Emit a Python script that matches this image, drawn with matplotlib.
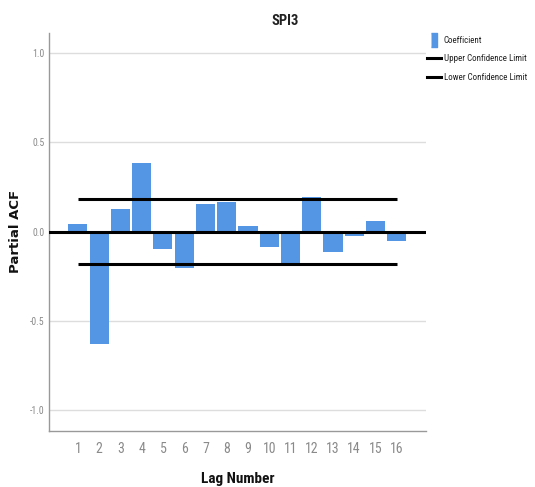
import matplotlib
matplotlib.use('Agg')
import matplotlib.pyplot as plt
from matplotlib.lines import Line2D
import numpy as np

# partial autocorrelation of SPI3, lags 1-16
lags = np.arange(1, 17)
pacf = [0.042, -0.628, 0.124, 0.381, -0.100, -0.204, 0.152, 0.163,
        0.032, -0.085, -0.174, 0.194, -0.113, -0.023, 0.060, -0.055]
conf_limit = 0.18
yticks = [-1.0, -0.5, 0.0, 0.5, 1.0]

narrow = ['Roboto Condensed', 'DejaVu Sans']
bar_col = '#5596e4'
tick_col = '#8a8a8a'

fig = plt.figure(figsize=(5.35, 4.87), dpi=100)
ax = fig.add_axes([0.0916, 0.115, 0.704, 0.817])

ax.bar(lags, pacf, width=0.9, color=bar_col, zorder=2)
ax.axhline(0, color='black', lw=2.2, zorder=3)
ax.plot([lags[0], lags[-1]], [conf_limit, conf_limit], color='black', lw=2.2,
        solid_capstyle='butt', zorder=3)
ax.plot([lags[0], lags[-1]], [-conf_limit, -conf_limit], color='black', lw=2.2,
        solid_capstyle='butt', zorder=3)

ax.set_xlim(-0.36, 17.36)
ax.set_ylim(-1.115, 1.109)
ax.set_xticks(lags)
ax.set_xticklabels([str(l) for l in lags], family=narrow, fontsize=10, color=tick_col)
ax.set_yticks(yticks)
ax.set_yticklabels(['%.1f' % v for v in yticks], family=narrow, fontsize=7, color=tick_col)
ax.tick_params(axis='both', length=0)
ax.tick_params(axis='x', pad=8)
ax.tick_params(axis='y', pad=3)

for v in yticks:
    if v != 0:
        ax.axhline(v, color='#dddddd', lw=1, zorder=1)

for s in ['top', 'right']:
    ax.spines[s].set_visible(False)
for s in ['left', 'bottom']:
    ax.spines[s].set_color('#999999')
    ax.spines[s].set_linewidth(1)

# axis titles and chart title placed in figure pixels
W, H = 535, 487
fig.text(16 / W, 1 - 231 / H, 'Partial ACF', fontsize=9.5, fontweight='bold',
         rotation=90, ha='center', va='center', color='#111111')
fig.text(238 / W, 1 - 479 / H, 'Lag Number', family=narrow, fontsize=11,
         fontweight='bold', ha='center', va='center', color='#111111')
fig.text(285 / W, 1 - 21 / H, 'SPI3', family=narrow, fontsize=10.5,
         fontweight='bold', ha='center', va='center', color='#222222')

bar_mark = [(-0.5, -1), (0.5, -1), (0.5, 1), (-0.5, 1)]
handles = [
    Line2D([], [], linestyle='none', marker=bar_mark, markersize=10,
           markerfacecolor=bar_col, markeredgecolor=bar_col),
    Line2D([], [], color='black', lw=2.2),
    Line2D([], [], color='black', lw=2.2),
]
fig.legend(handles, ['Coefficient', 'Upper Confidence Limit', 'Lower Confidence Limit'],
           loc='upper left', bbox_to_anchor=(427 / W, 1 - 36 / H),
           frameon=False, prop={'family': narrow, 'size': 6.5},
           handlelength=1.6, handletextpad=0.25, labelspacing=1.05,
           borderpad=0, borderaxespad=0, labelcolor='#222222')

fig.savefig('out.png', dpi=100)
